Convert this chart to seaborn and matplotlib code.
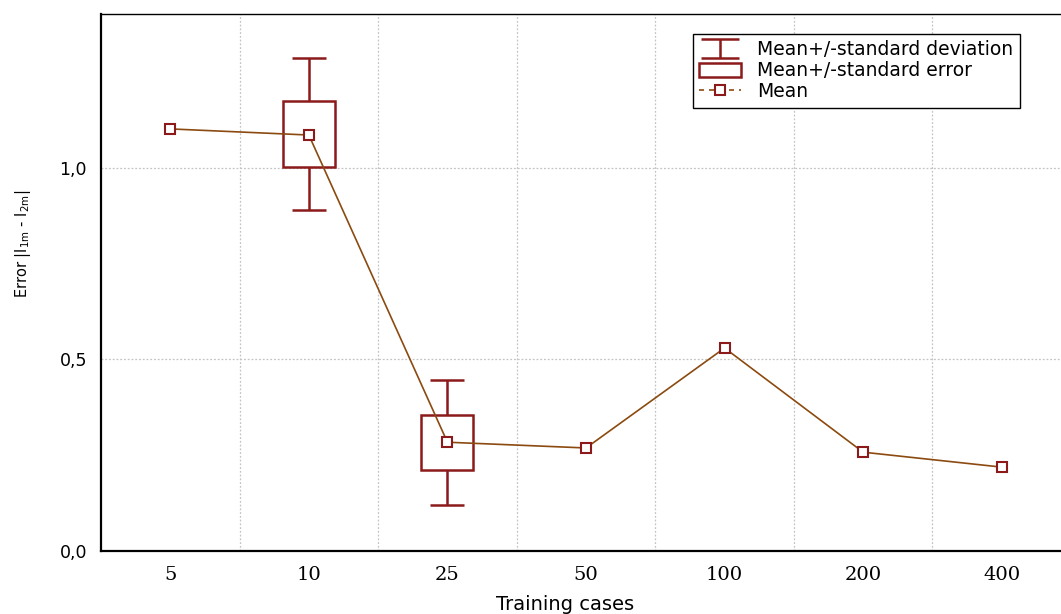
import numpy as np
import matplotlib
matplotlib.use("Agg")
import matplotlib.pyplot as plt
import seaborn as sns
from matplotlib.lines import Line2D
from matplotlib.patches import Patch

categories = ['5', '10', '25', '50', '100', '200', '400']
means = [1.102, 1.086, 0.284, 0.269, 0.530, 0.258, 0.219]
se_low = [np.nan, 1.003, 0.211, np.nan, np.nan, np.nan, np.nan]
se_high = [np.nan, 1.176, 0.355, np.nan, np.nan, np.nan, np.nan]
sd_low = [np.nan, 0.890, 0.120, np.nan, np.nan, np.nan, np.nan]
sd_high = [np.nan, 1.288, 0.446, np.nan, np.nan, np.nan, np.nan]
y_ticks = [0.0, 0.5, 1.0]
y_tick_labels = ['0,0', '0,5', '1,0']

box_col = '#8c1a1a'
line_col = '#8b4a10'

sns.set_style('white')
plt.rcParams['font.family'] = ['DejaVu Sans']
plt.rcParams['text.color'] = 'black'
plt.rcParams['axes.labelcolor'] = 'black'
plt.rcParams['xtick.color'] = 'black'
plt.rcParams['ytick.color'] = 'black'

W, H = 1061, 614
fig = plt.figure(figsize=(W / 100, H / 100), dpi=100)
ax = fig.add_axes([101 / W, (614 - 551) / H, (1071 - 101) / W, (551 - 14) / H])

x = np.arange(len(categories))
sns.lineplot(x=x, y=means, ax=ax, color=line_col, lw=1.2, marker='s',
             markersize=7.5, markerfacecolor='white', markeredgecolor=box_col,
             markeredgewidth=1.5, zorder=5)

valid = [i for i in range(len(categories)) if not np.isnan(se_low[i])]
bw = 0.375
cw = 0.245
for i in valid:
    ax.bar(x[i], se_high[i] - se_low[i], bottom=se_low[i], width=bw, fill=False,
           edgecolor=box_col, linewidth=1.8, zorder=3)
    ax.vlines(x[i], se_high[i], sd_high[i], color=box_col, lw=1.8, zorder=3)
    ax.vlines(x[i], sd_low[i], se_low[i], color=box_col, lw=1.8, zorder=3)
    ax.hlines([sd_high[i], sd_low[i]], x[i] - cw / 2, x[i] + cw / 2, color=box_col, lw=1.8, zorder=3)

ax.set_xlim(-0.5, 6.5)
ax.set_ylim(0, 1.402)

ax.set_xticks(x)
ax.set_xticklabels(categories, family='DejaVu Serif', fontsize=14)
ax.set_xticks(x[:-1] + 0.5, minor=True)
ax.tick_params(axis='x', which='major', length=0, pad=11)
ax.tick_params(axis='x', which='minor', length=4, direction='in', width=1.2, color='black')
ax.set_yticks(y_ticks)
ax.set_yticklabels(y_tick_labels, fontsize=12.5)
ax.tick_params(axis='y', which='major', length=0, pad=10)

ax.grid(False)
ax.xaxis.grid(True, which='minor', color='#c4c4c4', linestyle=(0, (1.5, 1.5)), lw=0.9)
ax.yaxis.grid(True, which='major', color='#c4c4c4', linestyle=(0, (1.5, 1.5)), lw=0.9)
ax.set_axisbelow(True)

for s in ['left', 'bottom']:
    ax.spines[s].set_linewidth(1.6)
    ax.spines[s].set_color('black')
ax.spines['top'].set_linewidth(1.0)
ax.spines['top'].set_color('black')
ax.spines['right'].set_visible(False)

ax.set_xlabel('Training cases', fontsize=14)
ax.xaxis.set_label_coords(0.478, -0.082)
ax.xaxis.label.set_va('top')
ax.set_ylabel(r'Error |I$_{\mathrm{1m}}$ - I$_{\mathrm{2m}}$|', fontsize=10.5)
ax.yaxis.set_label_coords(-0.070, 0.572)

eb = ax.errorbar([np.nan], [np.nan], yerr=[[0.1], [0.1]], fmt='none', ecolor=box_col,
                 elinewidth=1.8, capsize=14, capthick=1.8)
h_box = Patch(facecolor='none', edgecolor=box_col, linewidth=1.8)
h_mean = Line2D([], [], color=line_col, lw=1.2, linestyle=(0, (3, 3)), marker='s',
                markersize=7.5, markerfacecolor='white', markeredgecolor=box_col,
                markeredgewidth=1.5)
leg = ax.legend([eb, h_box, h_mean],
                ['Mean+/-standard deviation', 'Mean+/-standard error', 'Mean'],
                loc='upper left', bbox_to_anchor=(0.610, 0.963), fontsize=13.5,
                frameon=True, fancybox=False, framealpha=1, edgecolor='black',
                borderpad=0.35, labelspacing=0.1, handlelength=2.2, handleheight=0.75,
                handletextpad=0.9, borderaxespad=0)
leg.get_frame().set_linewidth(1.0)

fig.savefig('out.png', dpi=100)
